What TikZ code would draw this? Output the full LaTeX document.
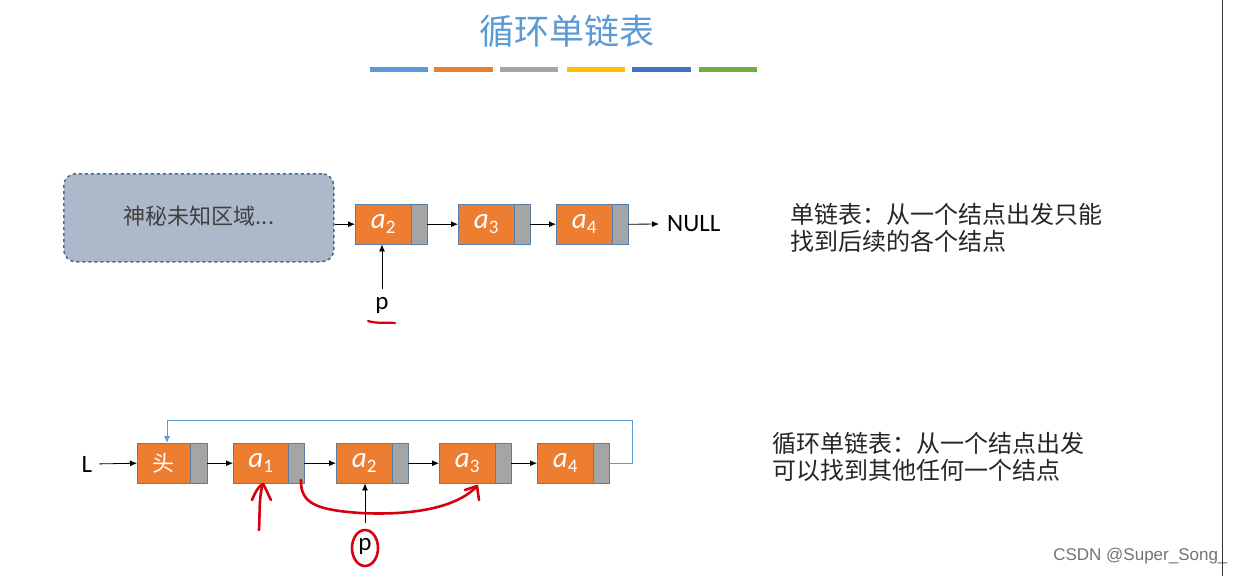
\documentclass[tikz,border=0pt]{standalone}
\usepackage{fontspec}
\setmainfont{Carlito}
\newfontfamily\cjk{Noto Sans CJK SC}
\newfontfamily\wmfont{Liberation Sans}
\usetikzlibrary{arrows.meta}
\definecolor{titleblue}{RGB}{91,155,213}
\definecolor{norange}{RGB}{237,125,49}
\definecolor{ngray}{RGB}{165,165,165}
\definecolor{nborder}{RGB}{90,125,165}
\definecolor{cbyellow}{RGB}{255,192,0}
\definecolor{cbblue}{RGB}{68,114,196}
\definecolor{cbgreen}{RGB}{112,173,71}
\definecolor{fogfill}{RGB}{173,185,202}
\definecolor{fogline}{RGB}{68,106,140}
\definecolor{annred}{RGB}{215,0,15}
\newcommand\elem[2]{\textit{#1}\raisebox{-0.4ex}{\fontsize{19}{19}\selectfont #2}}
\tikzset{
  obox/.style={draw=nborder, fill=norange, minimum width=56pt, minimum height=40pt, inner sep=0pt, anchor=north west, text=white, font=\fontsize{29}{29}\selectfont},
  gbox/.style={draw=nborder, fill=ngray, minimum width=16pt, minimum height=40pt, inner sep=0pt, anchor=north west},
  link/.style={-{Latex[length=7pt,width=6pt]}, line width=0.8pt},
  bar/.style={line width=5pt},
  ann/.style={draw=annred, line width=2.6pt, line cap=round, line join=round},
  cjktxt/.style={font=\cjk\fontsize{24}{27}\selectfont, text=black!85, align=left, anchor=west, inner sep=0pt},
  lbl/.style={font=\fontsize{25}{25}\selectfont, inner sep=1pt}
}
\begin{document}
\begin{tikzpicture}[x=1pt,y=-1pt]
\useasboundingbox (0,0) rectangle (1246,576);
\fill[white] (0,0) rectangle (1246,576);
% title
\node[text=titleblue, font=\cjk\fontsize{35}{35}\selectfont] (title) at (567,31) {循环单链表};
\draw[bar, titleblue] (370,69) -- (428,69);
\draw[bar, norange] (434,69) -- (493,69);
\draw[bar, ngray] (500,69) -- (558,69);
\draw[bar, cbyellow] (567,69) -- (625,69);
\draw[bar, cbblue] (632,69) -- (691,69);
\draw[bar, cbgreen] (699,69) -- (757,69);
% top diagram
\node[draw=fogline, fill=fogfill, dashed, line width=1.5pt, rounded corners=12pt, minimum width=270pt, minimum height=88pt, anchor=north west, inner sep=0pt] (fog) at (63,173) {};
\node[font=\cjk\fontsize{22}{22}\selectfont, text=black!75] (fogtxt) at (199,216) {神秘未知区域...};
\node[obox] (ta2) at (355,204) {\elem{a}{2}};
\node[gbox] (ta2g) at (411,204) {};
\node[obox] (ta3) at (458,204) {\elem{a}{3}};
\node[gbox] (ta3g) at (514,204) {};
\node[obox] (ta4) at (556,204) {\elem{a}{4}};
\node[gbox] (ta4g) at (612,204) {};
\node[lbl, anchor=west] (null) at (666,224) {NULL};
\draw[link] (fog.east |- ta2.west) -- (ta2.west);
\draw[link] (ta2g.east) -- (ta3.west);
\draw[link] (ta3g.east) -- (ta4.west);
\draw[link, shorten >=7pt] (ta4g.east) -- (null.west);
\node[lbl] (tp) at (382,305) {p};
\draw[link] (382,289) -- (ta2.south -| 382,0);
\draw[ann, line width=2.2pt] (368,321) .. controls (378,324) and (386,322) .. (395,323);
\node[cjktxt] (topdesc) at (790,228) {单链表：从一个结点出发只能\\找到后续的各个结点};
% bottom diagram
\node[lbl] (L) at (87,464) {L};
\node[obox, minimum width=53pt, font=\cjk\fontsize{22}{22}\selectfont] (bh) at (137,443) {头};
\node[gbox, minimum width=17pt] (bhg) at (190,443) {};
\node[obox, minimum width=55pt] (b1) at (233,443) {\elem{a}{1}};
\node[gbox] (b1g) at (288,443) {};
\node[obox] (b2) at (336,443) {\elem{a}{2}};
\node[gbox] (b2g) at (392,443) {};
\node[obox] (b3) at (439,443) {\elem{a}{3}};
\node[gbox] (b3g) at (495,443) {};
\node[obox] (b4) at (537,443) {\elem{a}{4}};
\node[gbox] (b4g) at (593,443) {};
\draw[link, shorten <=6pt] (L.east) -- (bh.west);
\draw[link] (bhg.east) -- (b1.west);
\draw[link] (b1g.east) -- (b2.west);
\draw[link] (b2g.east) -- (b3.west);
\draw[link] (b3g.east) -- (b4.west);
\coordinate (loopr) at (632,420);
\coordinate (loopl) at (167,420);
\draw[-{Latex[length=7pt,width=6pt]}, titleblue, line width=1pt] (b4g.east) -| (loopr) -- (loopl) -- (loopl |- bh.north);
\node[lbl] (bp) at (365,546) {p};
\draw[link] (365,523) -- (b2.south -| 365,0);
\node[cjktxt] (botdesc) at (772,457) {循环单链表：从一个结点出发\\可以找到其他任何一个结点};
% red annotations
\draw[ann] (bp.center) ++(0,2) ellipse (13pt and 18pt);
\draw[ann] (259,530) .. controls (260,510) and (259,495) .. (263,484);
\draw[ann] (252,500) .. controls (256,490) and (260,485) .. (263,484) .. controls (266,488) and (268,495) .. (271,500);
\draw[ann] (301,480) .. controls (300,505) and (320,510) .. (360,513) .. controls (420,516) and (460,505) .. (477,486);
\draw[ann] (465,490) -- (477,486) -- (479,500);
% watermark and edge
\node[text=black!55, font=\wmfont\fontsize{17}{17}\selectfont, anchor=east] (wm) at (1231,556) {CSDN @Super\_Song\_};
\draw[black!80, line width=1pt] (1222,0) -- (1222,576);
\end{tikzpicture}
\end{document}
